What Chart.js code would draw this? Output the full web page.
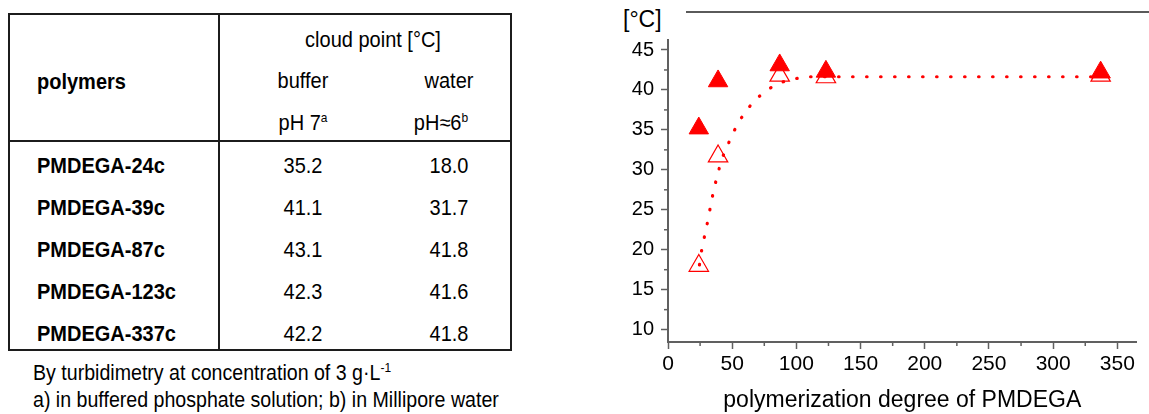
<!DOCTYPE html>
<html>
<head>
<meta charset="utf-8">
<script src="https://cdn.jsdelivr.net/npm/chart.js@4.4.1/dist/chart.umd.min.js"></script>
<style>
  body { margin: 0; width: 1149px; height: 414px; background: #fff; position: relative; overflow: hidden;
         font-family: "Liberation Sans", Arial, sans-serif; color: #000; }
  .t { position: absolute; white-space: nowrap; line-height: 1; font-size: 20px; }
  .c { transform: translate(-50%, -50%) scaleY(1.1); }
  .l { transform: translate(0, -50%) scaleY(1.1); }
  .b { font-weight: bold; }
  sup { font-size: 12px; vertical-align: 7px; line-height: 0; }
  .rule { position: absolute; background: #1c1c1c; }
  #chartbox { position: absolute; left: 600px; top: 0; width: 549px; height: 414px; }
</style>
</head>
<body>
<div id="tbl"></div>
<div class="rule" style="left:686px; top:11px; width:463px; height:2px; background:#5a5a5a;"></div>
<div class="t" style="left:623px; top:8px; font-size:23px;">[°C]</div>
<div id="chartbox"><canvas id="chart"></canvas></div>
<script>
const degrees = [24, 39, 87, 123, 337];
const bufferCP = [35.2, 41.1, 43.1, 42.3, 42.2];
const waterCP = [18.0, 31.7, 41.8, 41.6, 41.8];

// dotted trend line
const fitX = [24.5, 26.3, 28.6, 31.1, 33.2, 35.7, 38.5, 41.7, 46.3, 51.6, 58.4, 67.3, 78.4, 89.5, 100.9, 111.5, 150, 337];
const fitY = [18.1, 20.0, 21.8, 23.7, 25.5, 27.5, 29.3, 31.2, 33.0, 34.9, 36.8, 38.6, 40.1, 41.0, 41.45, 41.65, 41.65, 41.65];

const xTicks = [0, 50, 100, 150, 200, 250, 300, 350];
const yTicks = [10, 15, 20, 25, 30, 35, 40, 45];

const red = "#ff0000";
const axisColor = "#606060";

// ---- table ----
const tbl = document.getElementById("tbl");
function rule(l, t, w, h) {
  const d = document.createElement("div");
  d.className = "rule";
  d.style.cssText = `left:${l}px;top:${t}px;width:${w}px;height:${h}px;`;
  tbl.appendChild(d);
}
function text(html, x, y, cls) {
  const d = document.createElement("div");
  d.className = "t " + cls;
  d.style.left = x + "px";
  d.style.top = y + "px";
  d.innerHTML = html;
  tbl.appendChild(d);
  return d;
}
rule(8, 13, 504, 2);
rule(8, 349, 504, 2);
rule(8, 13, 2, 338);
rule(510, 13, 2, 338);
rule(218, 13, 2, 338);
rule(8, 140, 504, 2);

text("cloud point [°C]", 373, 39, "c");
text("polymers", 37, 81, "l b");
text("buffer", 303, 80, "c");
text("water", 449, 80, "c");
text("pH 7<sup>a</sup>", 303, 122, "c");
text("pH≈6<sup>b</sup>", 441, 122, "c");

degrees.forEach((dp, i) => {
  const y = 165 + 42 * i;
  text("PMDEGA-" + dp + "c", 37, y, "l b");
  text(bufferCP[i].toFixed(1), 303, y, "c");
  text(waterCP[i].toFixed(1), 449, y, "c");
});

const f1 = text("By turbidimetry at concentration of 3 g·L<sup>-1</sup>", 33, 373, "l");
const f2 = text("a) in buffered phosphate solution; b) in Millipore water", 33, 400, "l");
f1.style.fontSize = f2.style.fontSize = "19.6px";

// ---- chart ----
const minorTicks = {
  id: "minorTicks",
  afterDraw(chart) {
    const ctx = chart.ctx;
    ctx.save();
    ctx.strokeStyle = axisColor;
    ctx.lineWidth = 1.5;
    ["x", "y"].forEach(id => {
      const s = chart.scales[id];
      const vals = s.ticks.map(t => t.value);
      for (let i = 0; i < vals.length - 1; i++) {
        const p = s.getPixelForValue((vals[i] + vals[i + 1]) / 2);
        ctx.beginPath();
        if (id === "x") {
          ctx.moveTo(p, s.top);
          ctx.lineTo(p, s.top + 4);
        } else {
          ctx.moveTo(s.right, p);
          ctx.lineTo(s.right - 4, p);
        }
        ctx.stroke();
      }
    });
    ctx.restore();
  }
};

Chart.defaults.font.family = '"Liberation Sans", Arial, sans-serif';
Chart.defaults.color = "#000";

new Chart(document.getElementById("chart"), {
  type: "scatter",
  data: {
    datasets: [
      {
        label: "buffer pH 7",
        data: degrees.map((x, i) => ({ x, y: bufferCP[i] })),
        pointStyle: "triangle",
        pointRadius: 11.2,
        backgroundColor: red,
        borderColor: red,
        borderWidth: 1,
      },
      {
        label: "water pH≈6",
        data: degrees.map((x, i) => ({ x, y: waterCP[i] })),
        pointStyle: "triangle",
        pointRadius: 11.2,
        backgroundColor: "rgba(0,0,0,0)",
        borderColor: red,
        borderWidth: 1.2,
      },
      {
        label: "trend",
        data: fitX.map((x, i) => ({ x, y: fitY[i] })),
        showLine: true,
        pointRadius: 0,
        borderColor: red,
        borderWidth: 3.2,
        borderDash: [0.5, 13.5],
        borderCapStyle: "round",
        cubicInterpolationMode: "monotone",
      },
    ],
  },
  options: {
    responsive: true,
    maintainAspectRatio: false,
    animation: false,
    devicePixelRatio: 1,
    layout: { padding: { top: 40, left: 0, right: 0, bottom: 0 } },
    plugins: { legend: { display: false }, tooltip: { enabled: false } },
    scales: {
      x: {
        type: "linear",
        min: 0,
        max: 365,
        afterBuildTicks: s => { s.ticks = xTicks.map(v => ({ value: v })); },
        afterFit: s => { s.height = 72; },
        grid: { drawOnChartArea: false, drawTicks: true, tickLength: 7, tickColor: axisColor, tickWidth: 1.5 },
        border: { color: axisColor, width: 2 },
        ticks: { font: { size: 21 }, padding: 3, color: "#000" },
        title: {
          display: true,
          text: "polymerization degree of PMDEGA",
          font: { size: 23 },
          padding: { top: 0, bottom: 0 },
          color: "#000",
        },
      },
      y: {
        type: "linear",
        min: 8.45,
        max: 46.25,
        afterBuildTicks: s => { s.ticks = yTicks.map(v => ({ value: v })); },
        afterFit: s => { s.width = 68; },
        grid: { drawOnChartArea: false, drawTicks: true, tickLength: 7, tickColor: axisColor, tickWidth: 1.5 },
        border: { color: axisColor, width: 2 },
        ticks: { font: { size: 20 }, padding: 7, color: "#000" },
      },
    },
  },
  plugins: [minorTicks],
});
</script>
</body>
</html>
